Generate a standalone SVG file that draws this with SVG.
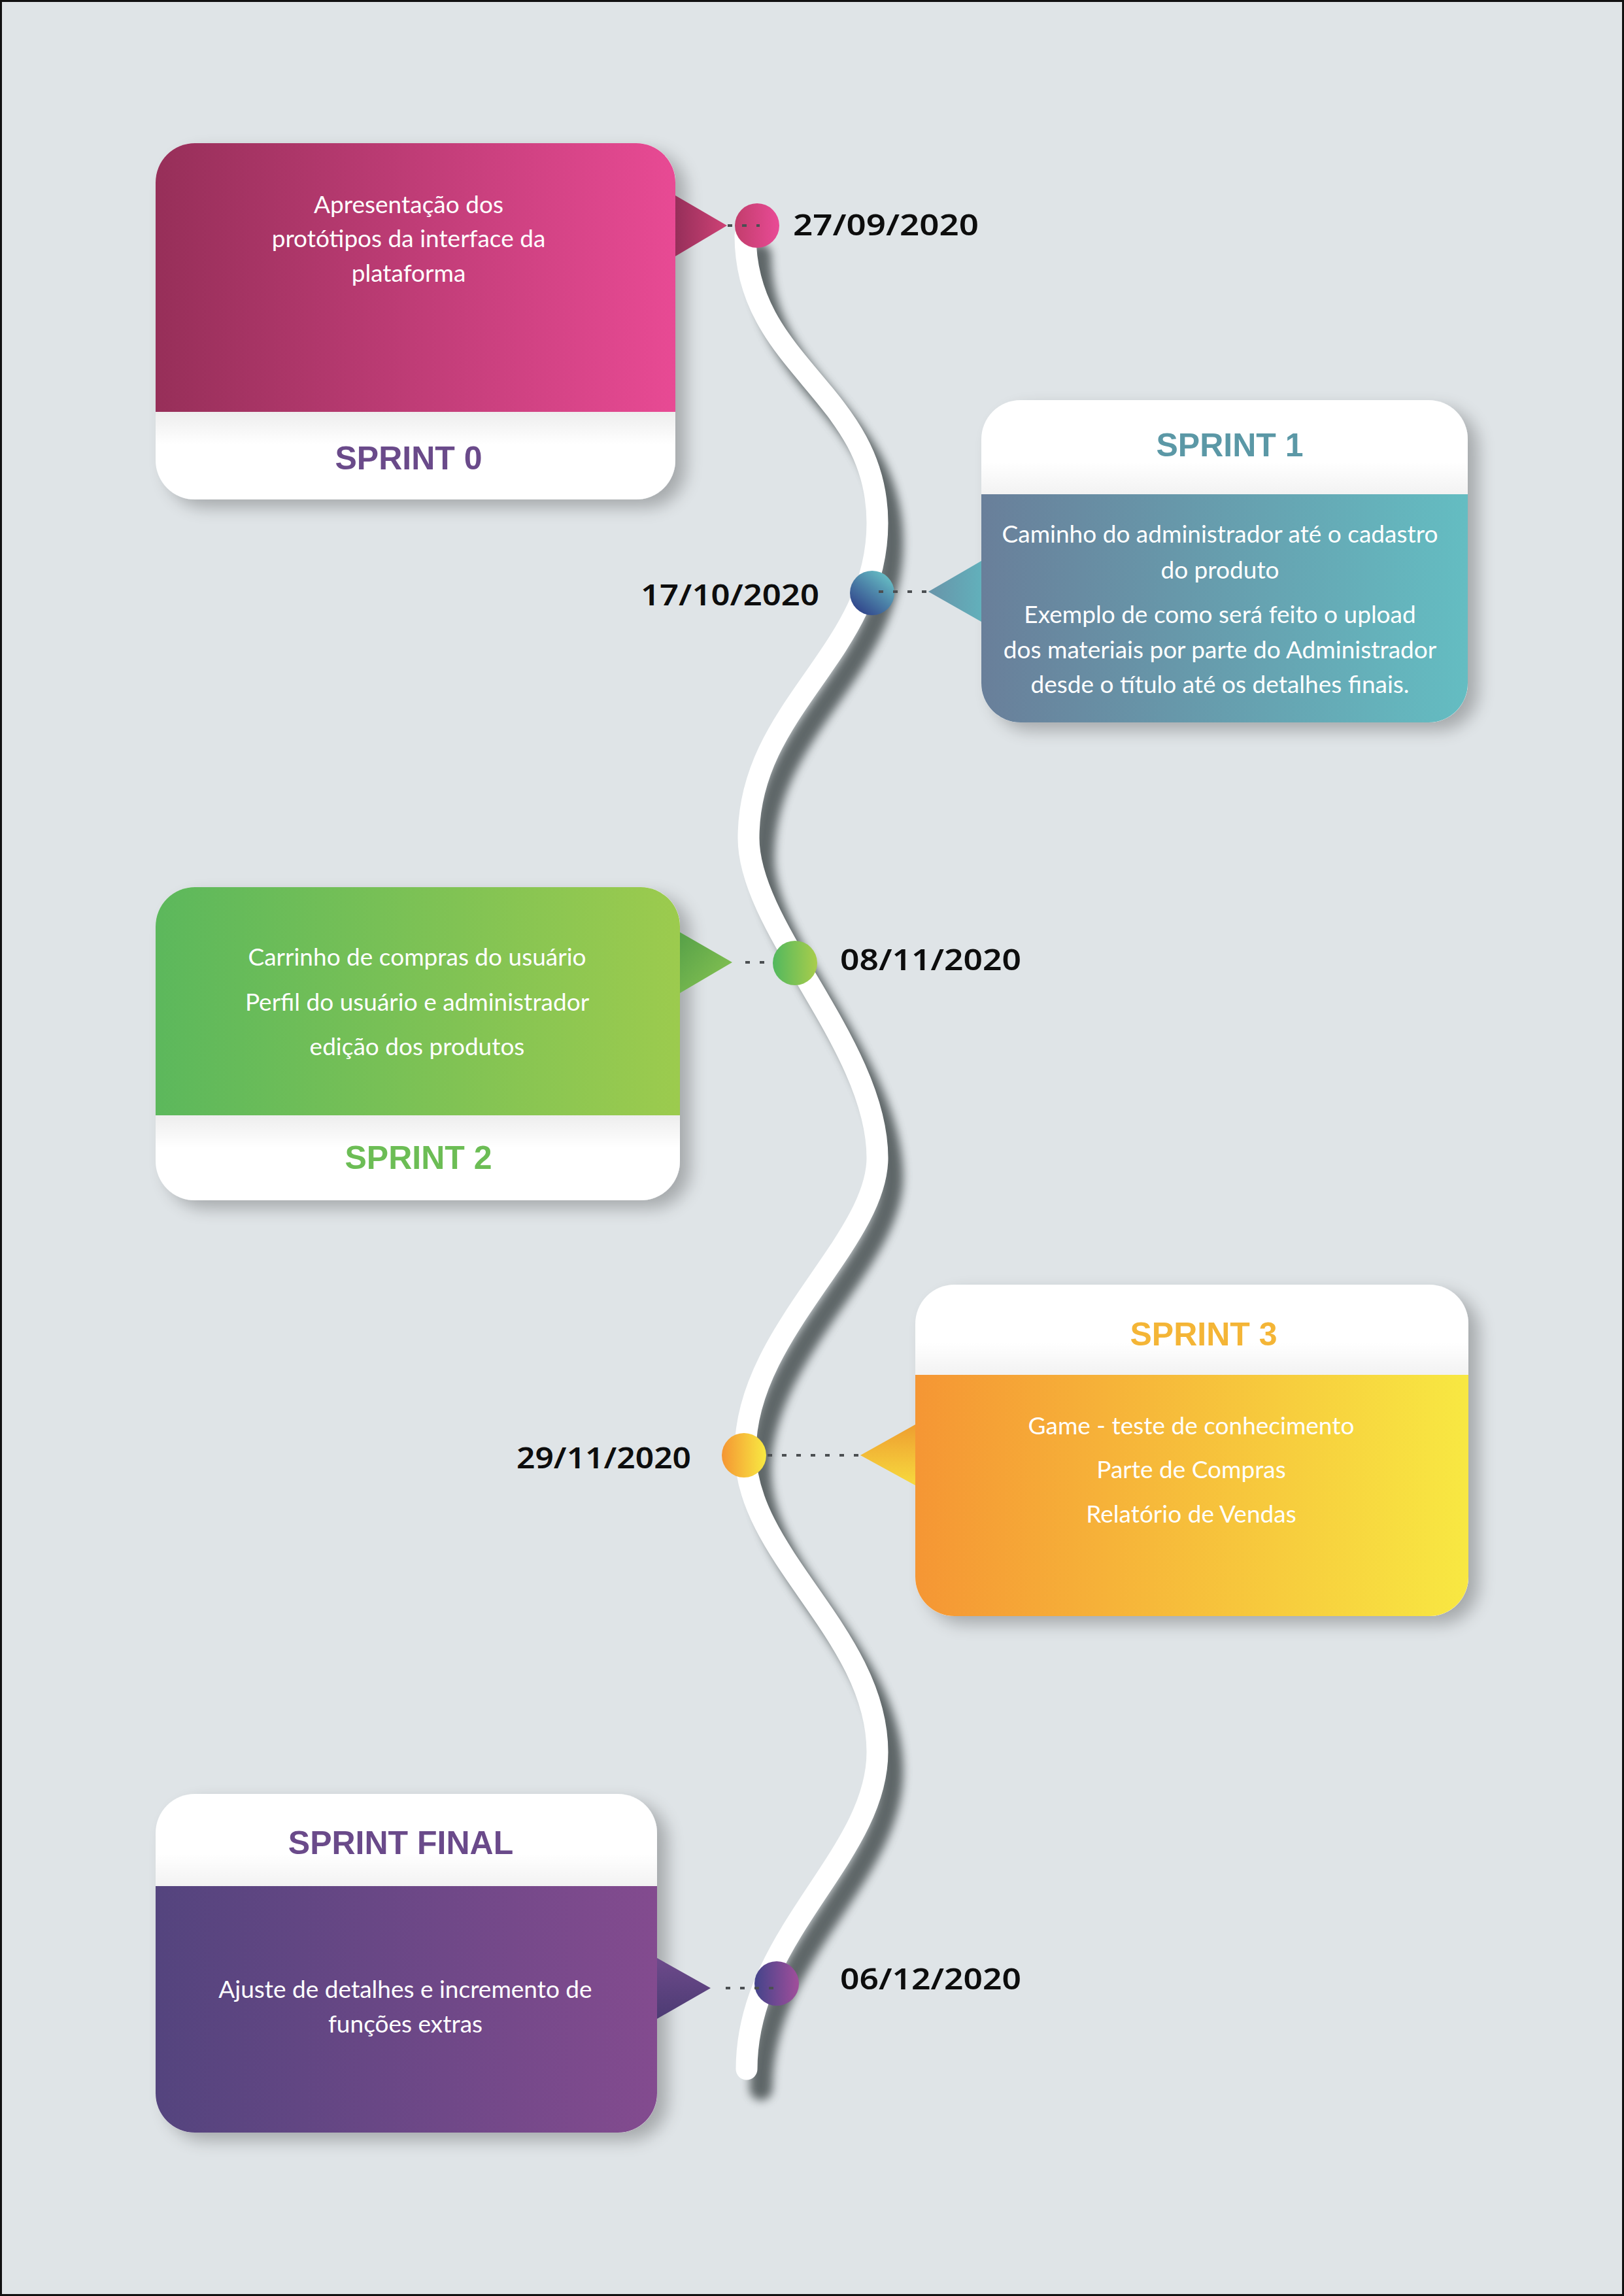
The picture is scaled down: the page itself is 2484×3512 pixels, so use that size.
<svg xmlns="http://www.w3.org/2000/svg" width="2484" height="3512" viewBox="0 0 2484 3512">
  <style>
    .body{font-family:Lato,"Open Sans","Noto Sans",sans-serif;font-size:37px;fill:#ffffff;text-anchor:middle}
    .title{font-family:"Liberation Sans",Arial,sans-serif;font-weight:bold;font-size:50px;text-anchor:middle}
    .date{font-family:"Noto Sans","DejaVu Sans",sans-serif;font-weight:600;font-size:45px;fill:#0d0d0d}
    .leader{stroke:#4b4f52;stroke-width:4;stroke-dasharray:7 15;fill:none}
    .card{fill:#ffffff;filter:url(#cardShadow)}
  </style>
  <defs>
    <filter id="cardShadow" x="-10%" y="-10%" width="130%" height="130%">
      <feGaussianBlur in="SourceAlpha" stdDeviation="13"/>
      <feOffset dx="16" dy="12" result="b"/>
      <feComponentTransfer><feFuncA type="linear" slope="0.26"/></feComponentTransfer>
      <feMerge><feMergeNode/><feMergeNode in="SourceGraphic"/></feMerge>
    </filter>
    <filter id="pathShadow" x="-20%" y="-5%" width="140%" height="110%">
      <feGaussianBlur stdDeviation="7"/>
    </filter>
    <!-- panel fills -->
    <linearGradient id="gPink" x1="0" y1="0" x2="1" y2="0"><stop offset="0" stop-color="#972f59"/><stop offset="1" stop-color="#e84a94"/></linearGradient>
    <linearGradient id="gTeal" x1="0" y1="0" x2="1" y2="0"><stop offset="0" stop-color="#697f9a"/><stop offset="1" stop-color="#64bdc2"/></linearGradient>
    <linearGradient id="gGreen" x1="0" y1="0" x2="1" y2="0"><stop offset="0" stop-color="#5cb85c"/><stop offset="1" stop-color="#9ccb4e"/></linearGradient>
    <linearGradient id="gOrange" x1="0" y1="0" x2="1" y2="0"><stop offset="0" stop-color="#f59634"/><stop offset="1" stop-color="#f8e842"/></linearGradient>
    <linearGradient id="gPurple" x1="0" y1="0" x2="1" y2="0"><stop offset="0" stop-color="#54447e"/><stop offset="1" stop-color="#834b8f"/></linearGradient>
    <!-- pointer fills -->
    <linearGradient id="tPink" x1="0" y1="0" x2="1" y2="0"><stop offset="0" stop-color="#962f5a"/><stop offset="1" stop-color="#cf4276"/></linearGradient>
    <linearGradient id="tTeal" x1="0" y1="0" x2="1" y2="0"><stop offset="0" stop-color="#6894a9"/><stop offset="1" stop-color="#62b0bb"/></linearGradient>
    <linearGradient id="tGreen" x1="0" y1="0" x2="1" y2="1"><stop offset="0" stop-color="#56a048"/><stop offset="1" stop-color="#8ac653"/></linearGradient>
    <linearGradient id="tOrange" x1="0" y1="0" x2="0" y2="1"><stop offset="0" stop-color="#ee9e30"/><stop offset="1" stop-color="#f7da3e"/></linearGradient>
    <linearGradient id="tPurple" x1="0" y1="0" x2="0" y2="1"><stop offset="0" stop-color="#6d4a8b"/><stop offset="1" stop-color="#4c3b73"/></linearGradient>
    <!-- milestone dots -->
    <linearGradient id="cPink" x1="0" y1="0" x2="1" y2="0"><stop offset="0" stop-color="#c23d6c"/><stop offset="1" stop-color="#e94b96"/></linearGradient>
    <linearGradient id="cTeal" x1="1" y1="0" x2="0.2" y2="1"><stop offset="0" stop-color="#6fd0cd"/><stop offset="1" stop-color="#2e3f88"/></linearGradient>
    <linearGradient id="cGreen" x1="0" y1="0" x2="1" y2="0"><stop offset="0" stop-color="#52b85e"/><stop offset="1" stop-color="#a9cd4b"/></linearGradient>
    <linearGradient id="cOrange" x1="0" y1="0" x2="1" y2="0"><stop offset="0" stop-color="#f59633"/><stop offset="1" stop-color="#f8ea42"/></linearGradient>
    <linearGradient id="cPurple" x1="0" y1="0" x2="1" y2="0"><stop offset="0" stop-color="#43448a"/><stop offset="1" stop-color="#a14e9b"/></linearGradient>
    <!-- soft shading on the white label strips -->
    <linearGradient id="shadeDown" x1="0" y1="0" x2="0" y2="1"><stop offset="0" stop-color="#000" stop-opacity="0.07"/><stop offset="1" stop-color="#000" stop-opacity="0"/></linearGradient>
    <linearGradient id="shadeUp" x1="0" y1="0" x2="0" y2="1"><stop offset="0" stop-color="#000" stop-opacity="0"/><stop offset="1" stop-color="#000" stop-opacity="0.05"/></linearGradient>
  </defs>

  <!-- page -->
  <rect x="1.5" y="1.5" width="2481" height="3509" fill="#dfe4e7" stroke="#111" stroke-width="3"/>

  <!-- winding timeline -->
  <g id="timeline">
    <path d="M1140,360 C1140,560 1342,600 1342,800 C1342,1000 1145,1080 1145,1282 C1145,1420 1342,1600 1342,1771 C1342,1900 1140,2040 1140,2220 C1140,2380 1342,2500 1342,2680 C1342,2840 1142,2960 1142,3165" fill="none" stroke="#596062" stroke-width="35" stroke-linecap="round" opacity="0.95" transform="translate(22,30)" filter="url(#pathShadow)"/>
    <path d="M1140,360 C1140,560 1342,600 1342,800 C1342,1000 1145,1080 1145,1282 C1145,1420 1342,1600 1342,1771 C1342,1900 1140,2040 1140,2220 C1140,2380 1342,2500 1342,2680 C1342,2840 1142,2960 1142,3165" fill="none" stroke="#ffffff" stroke-width="33" stroke-linecap="round"/>
  </g>

  <!-- Sprint 0 -->
  <g id="sprint0">
    <rect class="card" x="238" y="219" width="795" height="545" rx="60"/>
    <rect x="238" y="630" width="795" height="50" fill="url(#shadeDown)"/>
    <path d="M238,630 V279 A60,60 0 0 1 298,219 H973 A60,60 0 0 1 1033,279 V630 Z" fill="url(#gPink)"/>
    <polygon points="1033,299 1112,345 1033,392" fill="url(#tPink)"/>
    <circle cx="1158" cy="345" r="34" fill="url(#cPink)"/>
    <text class="body" x="625" y="326">Apresentação dos</text>
    <text class="body" x="625" y="378">protótipos da interface da</text>
    <text class="body" x="625" y="431">plataforma</text>
    <text class="title" x="625" y="718" fill="#6a4a8a">SPRINT 0</text>
    <text class="date" x="1213" y="360" textLength="284" lengthAdjust="spacingAndGlyphs">27/09/2020</text>
  </g>

  <!-- Sprint 1 -->
  <g id="sprint1">
    <rect class="card" x="1501" y="612" width="744" height="493" rx="60"/>
    <rect x="1501" y="706" width="744" height="50" fill="url(#shadeUp)"/>
    <path d="M1501,756 H2245 V1045 A60,60 0 0 1 2185,1105 H1561 A60,60 0 0 1 1501,1045 Z" fill="url(#gTeal)"/>
    <polygon points="1501,858 1420,905 1501,951" fill="url(#tTeal)"/>
    <circle cx="1334" cy="907" r="34" fill="url(#cTeal)"/>
    <text class="title" x="1881" y="698" fill="#5b98a6">SPRINT 1</text>
    <text class="body" x="1866" y="830">Caminho do administrador até o cadastro</text>
    <text class="body" x="1866" y="885">do produto</text>
    <text class="body" x="1866" y="953">Exemplo de como será feito o upload</text>
    <text class="body" x="1866" y="1007">dos materiais por parte do Administrador</text>
    <text class="body" x="1866" y="1060">desde o título até os detalhes finais.</text>
    <text class="date" x="980" y="926" textLength="273" lengthAdjust="spacingAndGlyphs">17/10/2020</text>
  </g>

  <!-- Sprint 2 -->
  <g id="sprint2">
    <rect class="card" x="238" y="1357" width="802" height="479" rx="60"/>
    <rect x="238" y="1706" width="802" height="50" fill="url(#shadeDown)"/>
    <path d="M238,1706 V1417 A60,60 0 0 1 298,1357 H980 A60,60 0 0 1 1040,1417 V1706 Z" fill="url(#gGreen)"/>
    <polygon points="1040,1426 1120,1472 1040,1519" fill="url(#tGreen)"/>
    <circle cx="1216" cy="1473" r="34" fill="url(#cGreen)"/>
    <text class="body" x="638" y="1477">Carrinho de compras do usuário</text>
    <text class="body" x="638" y="1546">Perfil do usuário e administrador</text>
    <text class="body" x="638" y="1614">edição dos produtos</text>
    <text class="title" x="640" y="1788" fill="#6cbd55">SPRINT 2</text>
    <text class="date" x="1285" y="1484" textLength="277" lengthAdjust="spacingAndGlyphs">08/11/2020</text>
  </g>

  <!-- Sprint 3 -->
  <g id="sprint3">
    <rect class="card" x="1400" y="1965" width="846" height="507" rx="60"/>
    <rect x="1400" y="2053" width="846" height="50" fill="url(#shadeUp)"/>
    <path d="M1400,2103 H2246 V2412 A60,60 0 0 1 2186,2472 H1460 A60,60 0 0 1 1400,2412 Z" fill="url(#gOrange)"/>
    <polygon points="1400,2179 1316,2226 1400,2272" fill="url(#tOrange)"/>
    <circle cx="1138" cy="2226" r="34" fill="url(#cOrange)"/>
    <text class="title" x="1841" y="2058" fill="#f4b536">SPRINT 3</text>
    <text class="body" x="1822" y="2194">Game - teste de conhecimento</text>
    <text class="body" x="1822" y="2261">Parte de Compras</text>
    <text class="body" x="1822" y="2329">Relatório de Vendas</text>
    <text class="date" x="790" y="2246" textLength="267" lengthAdjust="spacingAndGlyphs">29/11/2020</text>
  </g>

  <!-- Sprint final -->
  <g id="sprintFinal">
    <rect class="card" x="238" y="2744" width="767" height="518" rx="60"/>
    <rect x="238" y="2835" width="767" height="50" fill="url(#shadeUp)"/>
    <path d="M238,2885 H1005 V3202 A60,60 0 0 1 945,3262 H298 A60,60 0 0 1 238,3202 Z" fill="url(#gPurple)"/>
    <polygon points="1005,2995 1087,3041 1005,3088" fill="url(#tPurple)"/>
    <circle cx="1188" cy="3034" r="34" fill="url(#cPurple)"/>
    <text class="title" x="613" y="2836" fill="#6a4a8a">SPRINT FINAL</text>
    <text class="body" x="620" y="3056">Ajuste de detalhes e incremento de</text>
    <text class="body" x="620" y="3109">funções extras</text>
    <text class="date" x="1285" y="3043" textLength="277" lengthAdjust="spacingAndGlyphs">06/12/2020</text>
  </g>

  <!-- dotted leaders from pointers to milestones -->
  <g id="connectors">
    <line class="leader" x1="1113" y1="345" x2="1162" y2="345"/>
    <line class="leader" x1="1344" y1="905" x2="1420" y2="905"/>
    <line class="leader" x1="1140" y1="1472" x2="1178" y2="1472"/>
    <line class="leader" x1="1174" y1="2226" x2="1316" y2="2226"/>
    <line class="leader" x1="1110" y1="3041" x2="1186" y2="3041"/>
  </g>
</svg>
